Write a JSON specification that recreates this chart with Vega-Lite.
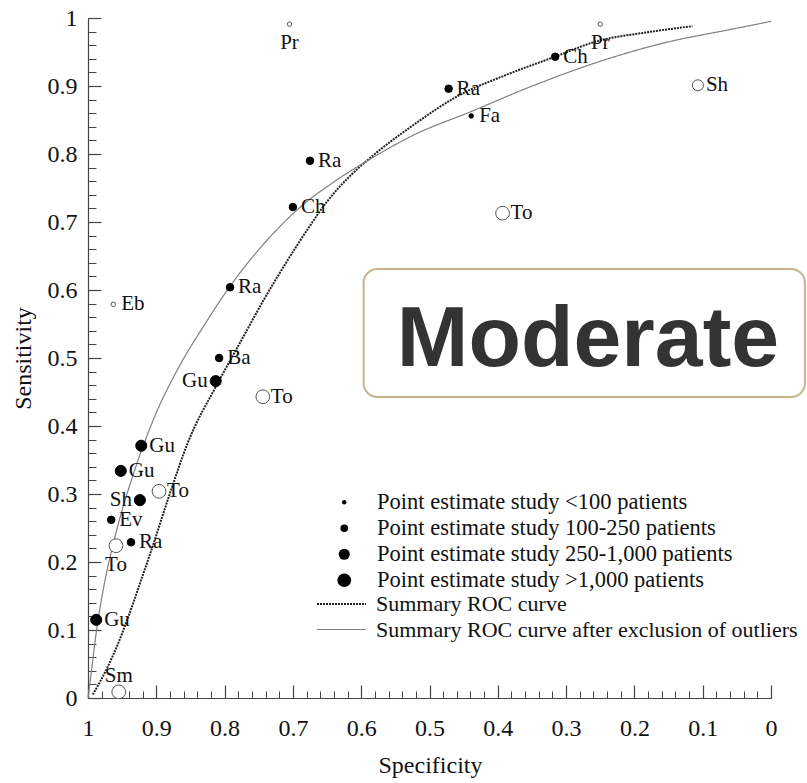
{
  "$schema": "https://vega.github.io/schema/vega-lite/v6.json",
  "width": 683,
  "height": 680,
  "autosize": {"type": "none"},
  "padding": {"left": 88, "top": 18, "right": 36, "bottom": 85},
  "background": "white",
  "datasets": {
    "points": [
      {"study": "Pr", "id": "p1", "specificity": 0.705, "sensitivity": 0.991, "group": "Point estimate study <100 patients", "outlier": true},
      {"study": "Pr", "id": "p2", "specificity": 0.25, "sensitivity": 0.991, "group": "Point estimate study <100 patients", "outlier": true},
      {"study": "Ch", "id": "p3", "specificity": 0.316, "sensitivity": 0.943, "group": "Point estimate study 100-250 patients", "outlier": false},
      {"study": "Ra", "id": "p4", "specificity": 0.472, "sensitivity": 0.896, "group": "Point estimate study 100-250 patients", "outlier": false},
      {"study": "Fa", "id": "p5", "specificity": 0.439, "sensitivity": 0.856, "group": "Point estimate study <100 patients", "outlier": false},
      {"study": "Sh", "id": "p6", "specificity": 0.107, "sensitivity": 0.901, "group": "Point estimate study 250-1,000 patients", "outlier": true},
      {"study": "Ra", "id": "p7", "specificity": 0.675, "sensitivity": 0.79, "group": "Point estimate study 100-250 patients", "outlier": false},
      {"study": "Ch", "id": "p8", "specificity": 0.70, "sensitivity": 0.722, "group": "Point estimate study 100-250 patients", "outlier": false},
      {"study": "To", "id": "p9", "specificity": 0.393, "sensitivity": 0.713, "group": "Point estimate study >1,000 patients", "outlier": true},
      {"study": "Ra", "id": "p10", "specificity": 0.792, "sensitivity": 0.604, "group": "Point estimate study 100-250 patients", "outlier": false},
      {"study": "Eb", "id": "p11", "specificity": 0.963, "sensitivity": 0.579, "group": "Point estimate study <100 patients", "outlier": true},
      {"study": "Ba", "id": "p12", "specificity": 0.808, "sensitivity": 0.5, "group": "Point estimate study 100-250 patients", "outlier": false},
      {"study": "Gu", "id": "p13", "specificity": 0.813, "sensitivity": 0.466, "group": "Point estimate study 250-1,000 patients", "outlier": false},
      {"study": "To", "id": "p14", "specificity": 0.744, "sensitivity": 0.443, "group": "Point estimate study >1,000 patients", "outlier": true},
      {"study": "Gu", "id": "p15", "specificity": 0.922, "sensitivity": 0.371, "group": "Point estimate study 250-1,000 patients", "outlier": false},
      {"study": "Gu", "id": "p16", "specificity": 0.952, "sensitivity": 0.334, "group": "Point estimate study 250-1,000 patients", "outlier": false},
      {"study": "To", "id": "p17", "specificity": 0.896, "sensitivity": 0.304, "group": "Point estimate study >1,000 patients", "outlier": true},
      {"study": "Sh", "id": "p18", "specificity": 0.924, "sensitivity": 0.291, "group": "Point estimate study 250-1,000 patients", "outlier": false},
      {"study": "Ev", "id": "p19", "specificity": 0.966, "sensitivity": 0.262, "group": "Point estimate study 100-250 patients", "outlier": false},
      {"study": "Ra", "id": "p20", "specificity": 0.937, "sensitivity": 0.229, "group": "Point estimate study 100-250 patients", "outlier": false},
      {"study": "To", "id": "p21", "specificity": 0.959, "sensitivity": 0.224, "group": "Point estimate study >1,000 patients", "outlier": true},
      {"study": "Gu", "id": "p22", "specificity": 0.988, "sensitivity": 0.115, "group": "Point estimate study 250-1,000 patients", "outlier": false},
      {"study": "Sm", "id": "p23", "specificity": 0.955, "sensitivity": 0.009, "group": "Point estimate study >1,000 patients", "outlier": true}
    ],
    "curves": [
      {"curve": "Summary ROC curve", "specificity": 0.993, "sensitivity": 0.005},
      {"curve": "Summary ROC curve", "specificity": 0.974, "sensitivity": 0.040},
      {"curve": "Summary ROC curve", "specificity": 0.956, "sensitivity": 0.080},
      {"curve": "Summary ROC curve", "specificity": 0.940, "sensitivity": 0.122},
      {"curve": "Summary ROC curve", "specificity": 0.920, "sensitivity": 0.180},
      {"curve": "Summary ROC curve", "specificity": 0.908, "sensitivity": 0.215},
      {"curve": "Summary ROC curve", "specificity": 0.882, "sensitivity": 0.295},
      {"curve": "Summary ROC curve", "specificity": 0.854, "sensitivity": 0.375},
      {"curve": "Summary ROC curve", "specificity": 0.810, "sensitivity": 0.463},
      {"curve": "Summary ROC curve", "specificity": 0.776, "sensitivity": 0.525},
      {"curve": "Summary ROC curve", "specificity": 0.743, "sensitivity": 0.585},
      {"curve": "Summary ROC curve", "specificity": 0.710, "sensitivity": 0.640},
      {"curve": "Summary ROC curve", "specificity": 0.678, "sensitivity": 0.690},
      {"curve": "Summary ROC curve", "specificity": 0.650, "sensitivity": 0.730},
      {"curve": "Summary ROC curve", "specificity": 0.620, "sensitivity": 0.764},
      {"curve": "Summary ROC curve", "specificity": 0.586, "sensitivity": 0.795},
      {"curve": "Summary ROC curve", "specificity": 0.523, "sensitivity": 0.843},
      {"curve": "Summary ROC curve", "specificity": 0.459, "sensitivity": 0.885},
      {"curve": "Summary ROC curve", "specificity": 0.386, "sensitivity": 0.917},
      {"curve": "Summary ROC curve", "specificity": 0.319, "sensitivity": 0.942},
      {"curve": "Summary ROC curve", "specificity": 0.254, "sensitivity": 0.966},
      {"curve": "Summary ROC curve", "specificity": 0.181, "sensitivity": 0.979},
      {"curve": "Summary ROC curve", "specificity": 0.115, "sensitivity": 0.988},
      {"curve": "Summary ROC curve after exclusion of outliers", "specificity": 1.0, "sensitivity": 0.0},
      {"curve": "Summary ROC curve after exclusion of outliers", "specificity": 0.996, "sensitivity": 0.031},
      {"curve": "Summary ROC curve after exclusion of outliers", "specificity": 0.988, "sensitivity": 0.096},
      {"curve": "Summary ROC curve after exclusion of outliers", "specificity": 0.977, "sensitivity": 0.163},
      {"curve": "Summary ROC curve after exclusion of outliers", "specificity": 0.959, "sensitivity": 0.243},
      {"curve": "Summary ROC curve after exclusion of outliers", "specificity": 0.933, "sensitivity": 0.331},
      {"curve": "Summary ROC curve after exclusion of outliers", "specificity": 0.904, "sensitivity": 0.410},
      {"curve": "Summary ROC curve after exclusion of outliers", "specificity": 0.864, "sensitivity": 0.492},
      {"curve": "Summary ROC curve after exclusion of outliers", "specificity": 0.830, "sensitivity": 0.548},
      {"curve": "Summary ROC curve after exclusion of outliers", "specificity": 0.798, "sensitivity": 0.597},
      {"curve": "Summary ROC curve after exclusion of outliers", "specificity": 0.766, "sensitivity": 0.640},
      {"curve": "Summary ROC curve after exclusion of outliers", "specificity": 0.728, "sensitivity": 0.684},
      {"curve": "Summary ROC curve after exclusion of outliers", "specificity": 0.689, "sensitivity": 0.722},
      {"curve": "Summary ROC curve after exclusion of outliers", "specificity": 0.637, "sensitivity": 0.761},
      {"curve": "Summary ROC curve after exclusion of outliers", "specificity": 0.586, "sensitivity": 0.793},
      {"curve": "Summary ROC curve after exclusion of outliers", "specificity": 0.523, "sensitivity": 0.828},
      {"curve": "Summary ROC curve after exclusion of outliers", "specificity": 0.440, "sensitivity": 0.862},
      {"curve": "Summary ROC curve after exclusion of outliers", "specificity": 0.352, "sensitivity": 0.899},
      {"curve": "Summary ROC curve after exclusion of outliers", "specificity": 0.254, "sensitivity": 0.935},
      {"curve": "Summary ROC curve after exclusion of outliers", "specificity": 0.158, "sensitivity": 0.963},
      {"curve": "Summary ROC curve after exclusion of outliers", "specificity": 0.060, "sensitivity": 0.983},
      {"curve": "Summary ROC curve after exclusion of outliers", "specificity": 0.0, "sensitivity": 0.995}
    ]
  },
  "layer": [
    {
      "data": {"name": "curves"},
      "mark": {"type": "line", "interpolate": "monotone"},
      "encoding": {
        "x": {"field": "specificity", "type": "quantitative",
          "scale": {"domain": [0, 1], "reverse": true, "nice": false, "zero": false},
          "axis": {"orient": "bottom", "values": [0,0.02,0.04,0.06,0.08,0.1,0.12,0.14,0.16,0.18,0.2,0.22,0.24,0.26,0.28,0.3,0.32,0.34,0.36,0.38,0.4,0.42,0.44,0.46,0.48,0.5,0.52,0.54,0.56,0.58,0.6,0.62,0.64,0.66,0.68,0.7,0.72,0.74,0.76,0.78,0.8,0.82,0.84,0.86,0.88,0.9,0.92,0.94,0.96,0.98,1],
            "tickSize": -7, "labels": false, "domain": false, "grid": false, "title": null, "tickColor": "#444", "tickWidth": 1}},
        "y": {"field": "sensitivity", "type": "quantitative",
          "scale": {"domain": [0, 1], "nice": false, "zero": false},
          "axis": {"orient": "left", "values": [0,0.02,0.04,0.06,0.08,0.1,0.12,0.14,0.16,0.18,0.2,0.22,0.24,0.26,0.28,0.3,0.32,0.34,0.36,0.38,0.4,0.42,0.44,0.46,0.48,0.5,0.52,0.54,0.56,0.58,0.6,0.62,0.64,0.66,0.68,0.7,0.72,0.74,0.76,0.78,0.8,0.82,0.84,0.86,0.88,0.9,0.92,0.94,0.96,0.98,1],
            "tickSize": -8, "labels": false, "domain": false, "grid": false, "title": null, "tickColor": "#444", "tickWidth": 1}},
        "strokeDash": {"field": "curve", "type": "nominal",
          "scale": {"domain": ["Summary ROC curve", "Summary ROC curve after exclusion of outliers"], "range": [[2, 1], [1, 0]]},
          "legend": {"orient": "none", "legendX": 242.5, "legendY": 575, "title": null, "symbolType": "M-3,0H3", "symbolSize": 267, "labelOffset": 23.5, "labelLimit": 0, "labelFont": "Liberation Serif", "labelFontSize": 22, "labelColor": "#111", "rowPadding": 3.5, "padding": 0}},
        "color": {"field": "curve", "type": "nominal",
          "scale": {"domain": ["Summary ROC curve", "Summary ROC curve after exclusion of outliers"], "range": ["#222222", "#808080"]},
          "legend": {"orient": "none", "legendX": 242.5, "legendY": 575, "title": null, "symbolType": "M-3,0H3", "symbolSize": 267, "labelOffset": 23.5, "labelLimit": 0, "labelFont": "Liberation Serif", "labelFontSize": 22, "labelColor": "#111", "rowPadding": 3.5, "padding": 0}},
        "strokeWidth": {"field": "curve", "type": "nominal",
          "scale": {"domain": ["Summary ROC curve", "Summary ROC curve after exclusion of outliers"], "range": [2, 1.2]},
          "legend": {"orient": "none", "legendX": 242.5, "legendY": 575, "title": null, "symbolType": "M-3,0H3", "symbolSize": 267, "labelOffset": 23.5, "labelLimit": 0, "labelFont": "Liberation Serif", "labelFontSize": 22, "labelColor": "#111", "rowPadding": 3.5, "padding": 0}}
      }
    },
    {
      "data": {"name": "points"},
      "mark": {"type": "circle", "opacity": 1, "strokeWidth": 1},
      "encoding": {
        "x": {"field": "specificity", "type": "quantitative",
          "scale": {"domain": [0, 1], "reverse": true, "nice": false, "zero": false},
          "axis": {"orient": "bottom", "values": [0,0.1,0.2,0.3,0.4,0.5,0.6,0.7,0.8,0.9,1], "format": "~g",
            "tickSize": -13, "labelPadding": 50, "labelBaseline": "alphabetic", "labelFlush": false, "labelOverlap": false,
            "labelFont": "Liberation Serif", "labelFontSize": 24, "labelColor": "#111",
            "domainColor": "#444", "domainWidth": 1.2, "tickColor": "#444", "tickWidth": 1.2, "grid": false,
            "title": "Specificity", "titleFont": "Liberation Serif", "titleFontSize": 24, "titleFontWeight": "normal", "titleColor": "#111",
            "titleX": 342, "titleY": 74, "titleBaseline": "alphabetic", "titleAlign": "center"}},
        "y": {"field": "sensitivity", "type": "quantitative",
          "scale": {"domain": [0, 1], "nice": false, "zero": false},
          "axis": {"orient": "left", "values": [0,0.1,0.2,0.3,0.4,0.5,0.6,0.7,0.8,0.9,1], "format": "~g",
            "tickSize": -13, "labelPadding": 24, "labelBaseline": "middle", "labelFlush": false, "labelOverlap": false,
            "labelFont": "Liberation Serif", "labelFontSize": 24, "labelColor": "#111",
            "domainColor": "#444", "domainWidth": 1.2, "tickColor": "#444", "tickWidth": 1.2, "grid": false,
            "title": "Sensitivity", "titleFont": "Liberation Serif", "titleFontSize": 24, "titleFontWeight": "normal", "titleColor": "#111",
            "titleX": -58, "titleY": 340, "titleAngle": -90, "titleBaseline": "alphabetic", "titleAlign": "center"}},
        "size": {"field": "group", "type": "ordinal",
          "scale": {"type": "ordinal", "domain": ["Point estimate study <100 patients", "Point estimate study 100-250 patients", "Point estimate study 250-1,000 patients", "Point estimate study >1,000 patients"], "range": [20, 57, 123, 189]},
          "legend": {"orient": "none", "legendX": 245, "legendY": 473, "title": null, "symbolType": "circle", "labelOffset": 21.5, "labelLimit": 0,
            "symbolFillColor": "black", "symbolStrokeColor": "black", "symbolStrokeWidth": 1, "symbolOpacity": 1,
            "labelFont": "Liberation Serif", "labelFontSize": 22.5, "labelColor": "#111", "rowPadding": 3, "padding": 0}},
        "fill": {"condition": {"test": "datum.outlier", "value": "white"}, "value": "black"},
        "stroke": {"condition": {"test": "datum.outlier", "value": "#555555"}, "value": "black"}
      }
    },
    {
      "data": {"name": "points"},
      "transform": [{"filter": {"not": {"field": "id", "oneOf": ["p1", "p2", "p21", "p13", "p18", "p23"]}}}],
      "mark": {"type": "text", "align": "left", "baseline": "middle", "dx": 8, "font": "Liberation Serif", "fontSize": 21, "fill": "#111"},
      "encoding": {
        "x": {"field": "specificity", "type": "quantitative", "axis": null},
        "y": {"field": "sensitivity", "type": "quantitative", "axis": null},
        "text": {"field": "study"}
      }
    },
    {
      "data": {"name": "points"},
      "transform": [{"filter": {"field": "id", "oneOf": ["p1", "p2", "p21"]}}],
      "mark": {"type": "text", "align": "center", "baseline": "middle", "dy": 19, "font": "Liberation Serif", "fontSize": 21, "fill": "#111"},
      "encoding": {
        "x": {"field": "specificity", "type": "quantitative", "axis": null},
        "y": {"field": "sensitivity", "type": "quantitative", "axis": null},
        "text": {"field": "study"}
      }
    },
    {
      "data": {"name": "points"},
      "transform": [{"filter": {"field": "id", "oneOf": ["p13", "p18"]}}],
      "mark": {"type": "text", "align": "right", "baseline": "middle", "dx": -8, "font": "Liberation Serif", "fontSize": 21, "fill": "#111"},
      "encoding": {
        "x": {"field": "specificity", "type": "quantitative", "axis": null},
        "y": {"field": "sensitivity", "type": "quantitative", "axis": null},
        "text": {"field": "study"}
      }
    },
    {
      "data": {"name": "points"},
      "transform": [{"filter": {"field": "id", "oneOf": ["p23"]}}],
      "mark": {"type": "text", "align": "center", "baseline": "middle", "dy": -16, "font": "Liberation Serif", "fontSize": 21, "fill": "#111"},
      "encoding": {
        "x": {"field": "specificity", "type": "quantitative", "axis": null},
        "y": {"field": "sensitivity", "type": "quantitative", "axis": null},
        "text": {"field": "study"}
      }
    },
    {
      "data": {"values": [{"note": "Moderate"}]},
      "mark": {"type": "rect", "cornerRadius": 14, "fill": "white", "stroke": "#c9b48c", "strokeWidth": 2},
      "encoding": {
        "x": {"datum": 0.5965, "type": "quantitative", "axis": null},
        "x2": {"datum": -0.0497},
        "y": {"datum": 0.631, "type": "quantitative", "axis": null},
        "y2": {"datum": 0.4426}
      }
    },
    {
      "data": {"values": [{"note": "Moderate"}]},
      "mark": {"type": "text", "align": "center", "baseline": "alphabetic", "font": "Liberation Sans", "fontWeight": "bold", "fontSize": 86, "fill": "#333333"},
      "encoding": {
        "x": {"datum": 0.268, "type": "quantitative", "axis": null},
        "y": {"datum": 0.488, "type": "quantitative", "axis": null},
        "text": {"field": "note"}
      }
    }
  ],
  "resolve": {"axis": {"x": "independent", "y": "independent"}},
  "config": {"view": {"stroke": null}, "font": "Liberation Serif"}
}
